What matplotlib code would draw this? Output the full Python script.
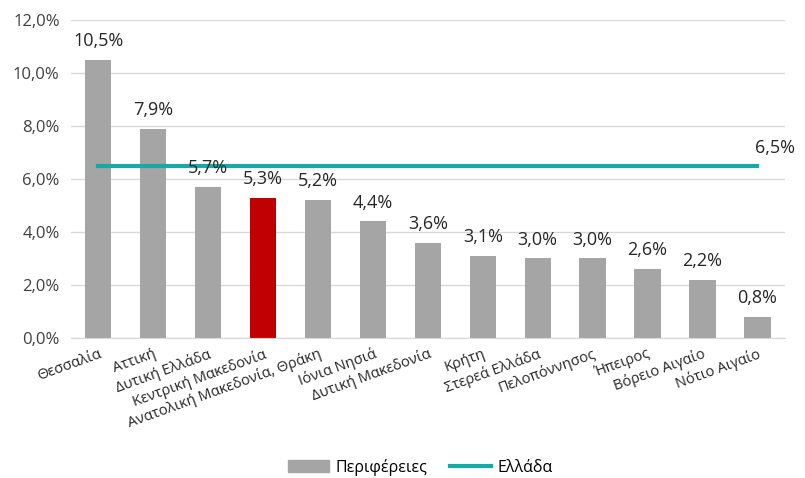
import matplotlib
matplotlib.use("Agg")
import matplotlib.pyplot as plt
from matplotlib.ticker import FuncFormatter
from matplotlib.patches import Patch
from matplotlib.lines import Line2D

regions = ["Θεσσαλία", "Αττική", "Δυτική Ελλάδα", "Κεντρική Μακεδονία",
           "Ανατολική Μακεδονία, Θράκη", "Ιόνια Νησιά", "Δυτική Μακεδονία",
           "Κρήτη", "Στερεά Ελλάδα", "Πελοπόννησος", "Ήπειρος",
           "Βόρειο Αιγαίο", "Νότιο Αιγαίο"]
values = [10.5, 7.9, 5.7, 5.3, 5.2, 4.4, 3.6, 3.1, 3.0, 3.0, 2.6, 2.2, 0.8]
greece = 6.5
highlight = "Κεντρική Μακεδονία"

plt.rcParams['font.family'] = ['Open Sans', 'DejaVu Sans']

fig = plt.figure(figsize=(8.05, 4.78), dpi=100)
ax = fig.add_axes([0.088, 0.293, 0.887, 0.665])

x = list(range(len(regions)))
colors = ["#C00000" if r == highlight else "#A5A5A5" for r in regions]
ax.bar(x, values, width=0.48, color=colors, zorder=2)
ax.plot([x[0], x[-1]], [greece, greece], color="#17A9A6", lw=3, zorder=3)

for xi, v in zip(x, values):
    ax.annotate(f"{v:.1f}%".replace(".", ","), (xi, v), xytext=(0, 7),
                textcoords="offset points", ha="center", va="bottom",
                fontsize=13, color="#262626", zorder=4)
ax.annotate(f"{greece:.1f}%".replace(".", ","), (x[-1], greece), xytext=(13, 6),
            textcoords="offset points", ha="center", va="bottom",
            fontsize=13, color="#262626")

ax.set_xlim(-0.5, len(regions) - 0.5)
ax.set_ylim(0, 12)
ax.set_yticks([0, 2, 4, 6, 8, 10, 12])
ax.yaxis.set_major_formatter(FuncFormatter(lambda v, p: f"{v:.1f}%".replace(".", ",")))
ax.tick_params(axis="y", length=0, labelsize=12, labelcolor="#404040", pad=8)
ax.set_xticks(x)
ax.set_xticklabels(regions, rotation=20, ha="right", rotation_mode="anchor",
                   fontsize=10.5, color="#262626")
ax.tick_params(axis="x", length=0, pad=6)
ax.grid(axis="y", color="#D9D9D9", lw=1, zorder=0)
for s in ["top", "right", "left"]:
    ax.spines[s].set_visible(False)
ax.spines["bottom"].set_color("#D9D9D9")

handles = [Patch(color="#A5A5A5", label="Περιφέρειες"),
           Line2D([0], [0], color="#17A9A6", lw=3, label="Ελλάδα")]
fig.legend(handles=handles, loc="center", bbox_to_anchor=(0.522, 0.023), ncol=2,
           frameon=False, fontsize=11.5, handlelength=2.6, columnspacing=1.4,
           handletextpad=0.4)

fig.savefig("out.png", dpi=100)
